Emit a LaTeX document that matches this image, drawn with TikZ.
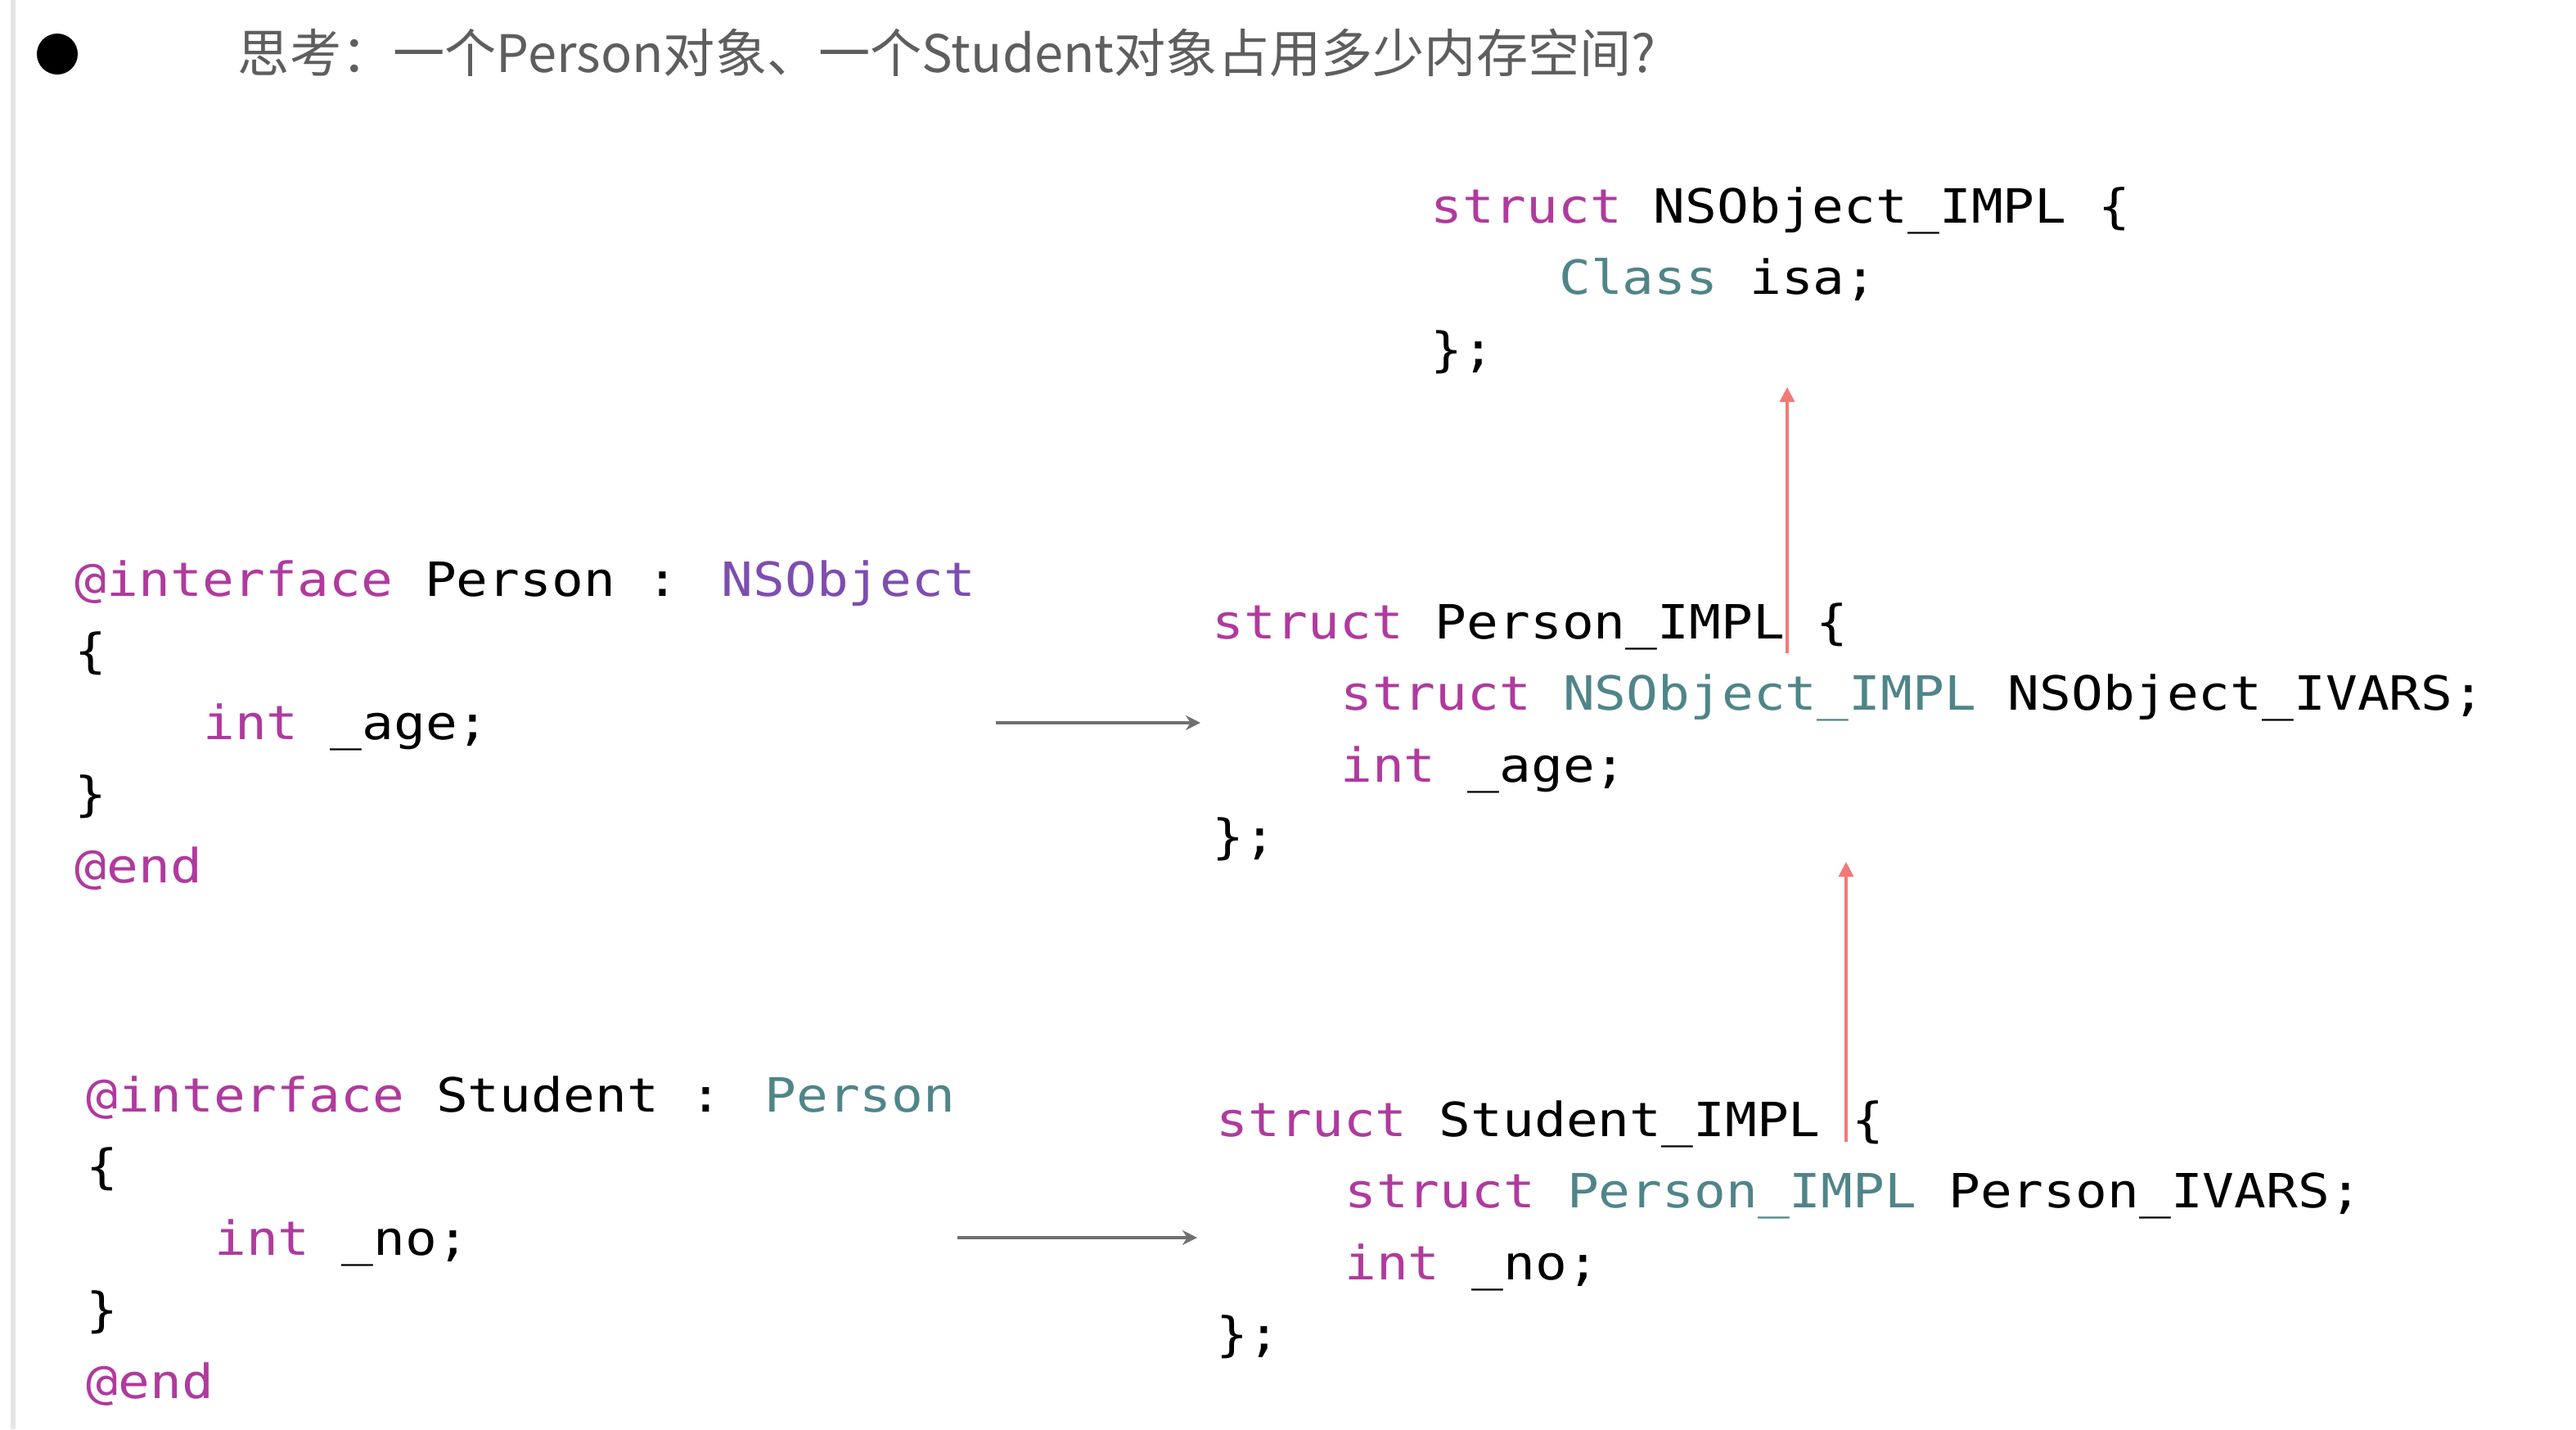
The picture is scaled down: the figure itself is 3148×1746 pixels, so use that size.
\documentclass[tikz,border=0pt]{standalone}
\usepackage{fontspec}
\newfontfamily\codefont[FakeStretch=1.12]{DejaVu Sans Mono}
\newfontfamily\cjk{Noto Sans CJK SC}
\usetikzlibrary{arrows.meta}
\definecolor{kwc}{HTML}{B03A9E}
\definecolor{tlc}{HTML}{4F8589}
\definecolor{puc}{HTML}{7D4DB0}
\definecolor{titlec}{HTML}{5E5E5E}
\definecolor{grayarr}{HTML}{707070}
\definecolor{redarr}{HTML}{F47878}
\newcommand\Kw[1]{\textcolor{kwc}{#1}}
\newcommand\Tl[1]{\textcolor{tlc}{#1}}
\newcommand\Pu[1]{\textcolor{puc}{#1}}
\begin{document}
\begin{tikzpicture}[x=0.25pt,y=-0.25pt,
  code/.style={anchor=base west,inner sep=0pt,font=\codefont\fontsize{14.4pt}{18pt}\selectfont},
  grayarrow/.style={draw=grayarr,line width=1.2pt,-{Stealth[length=4.5pt,width=4.5pt]}},
  redarrow/.style={draw=redarr,line width=0.8pt,-{Triangle[length=4.5pt,width=4.5pt]}}]
\fill[white] (0,0) rectangle (3148,1746);
\useasboundingbox (0,0) rectangle (3148,1746);
\draw[black!10,line width=1.5pt] (16,0) -- (16,1746);
\node[circle,fill=black,minimum size=12.5pt,inner sep=0pt] (bullet) at (70,66) {};
\node[anchor=base west,inner sep=0pt,text=titlec,font=\cjk\fontsize{15.8pt}{20pt}\selectfont] (title) at (290,88) {思考：一个Person对象、一个Student对象占用多少内存空间?};
% Person interface
\node[code] (p1) at (91,728) {\Kw{@interface} Person : \Pu{NSObject}};
\node[code] (p2) at (91,815.5) {\{};
\node[code] (p3) at (247.4,903) {\Kw{int} \_age;};
\node[code] (p4) at (91,990.5) {\}};
\node[code] (p5) at (91,1078) {\Kw{@end}};
% Student interface
\node[code] (s1) at (105,1358) {\Kw{@interface} Student : \Tl{Person}};
\node[code] (s2) at (105,1445.5) {\{};
\node[code] (s3) at (261.4,1533) {\Kw{int} \_no;};
\node[code] (s4) at (105,1620.5) {\}};
\node[code] (s5) at (105,1708) {\Kw{@end}};
% NSObject_IMPL
\node[code] (n1) at (1748,272) {\Kw{struct} NSObject\_IMPL \{};
\node[code] (n2) at (1904.4,359.5) {\Tl{Class} isa;};
\node[code] (n3) at (1748,447) {\};};
% Person_IMPL
\node[code] (q1) at (1481,780) {\Kw{struct} Person\_IMPL \{};
\node[code] (q2) at (1637.4,867.5) {\Kw{struct} \Tl{NSObject\_IMPL} NSObject\_IVARS;};
\node[code] (q3) at (1637.4,955) {\Kw{int} \_age;};
\node[code] (q4) at (1481,1042.5) {\};};
% Student_IMPL
\node[code] (t1) at (1486,1388) {\Kw{struct} Student\_IMPL \{};
\node[code] (t2) at (1642.4,1475.5) {\Kw{struct} \Tl{Person\_IMPL} Person\_IVARS;};
\node[code] (t3) at (1642.4,1563) {\Kw{int} \_no;};
\node[code] (t4) at (1486,1650.5) {\};};
% connectors
\coordinate (a1s) at (1217,883);
\coordinate (a1e) at (1467,883);
\coordinate (a2s) at (1170,1512);
\coordinate (a2e) at (1463,1512);
\coordinate (r1s) at (2184,798);
\coordinate (r1e) at (2184,473);
\coordinate (r2s) at (2256,1395);
\coordinate (r2e) at (2256,1053);
\draw[grayarrow] (a1s) -- (a1e);
\draw[grayarrow] (a2s) -- (a2e);
\draw[redarrow] (r1s) -- (r1e);
\draw[redarrow] (r2s) -- (r2e);
\end{tikzpicture}
\end{document}
